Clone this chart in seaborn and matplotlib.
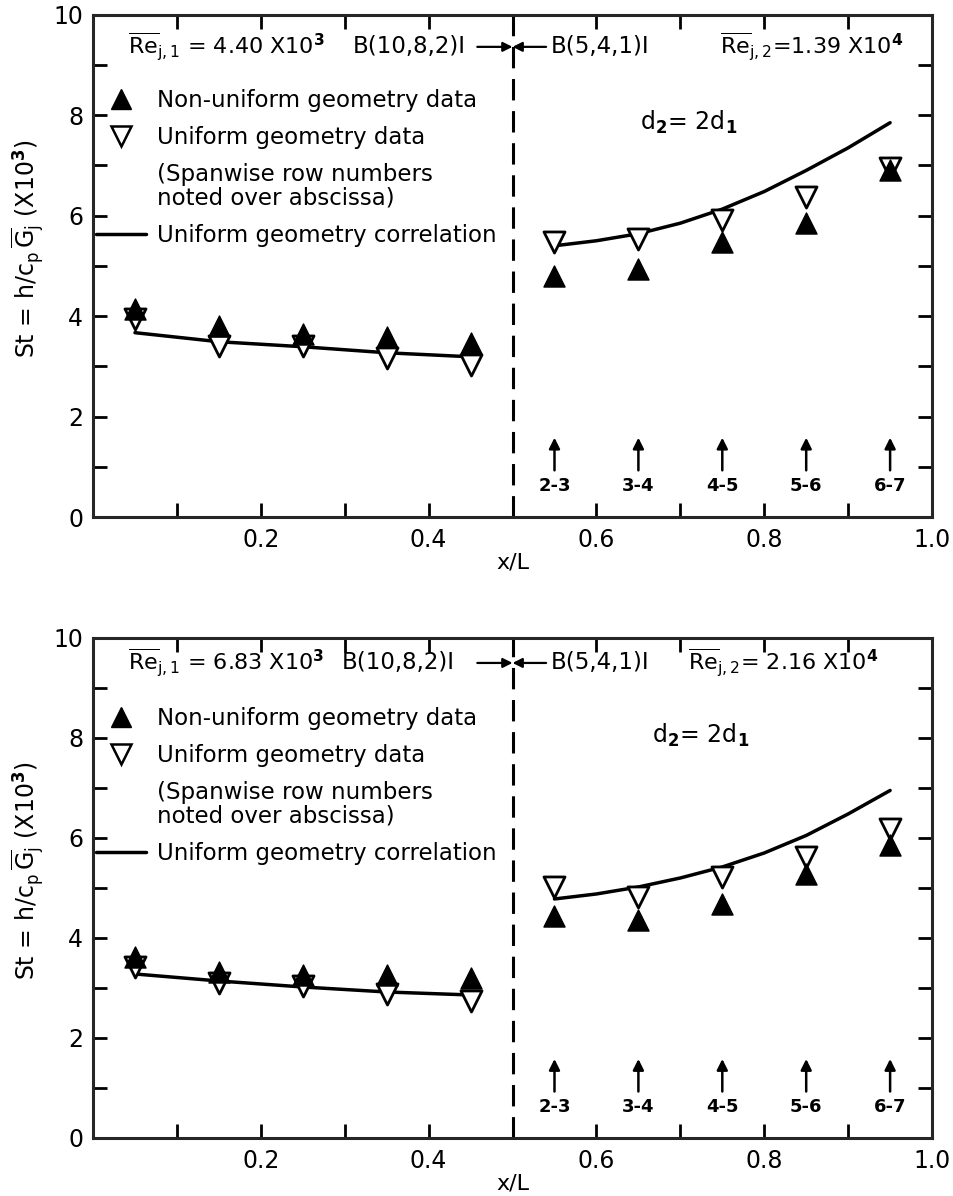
import numpy as np
import pandas as pd
import matplotlib
matplotlib.use("Agg")
import matplotlib.pyplot as plt
import seaborn as sns
from matplotlib.lines import Line2D

# Streamwise positions of the spanwise row pairs
x_pos = [0.05, 0.15, 0.25, 0.35, 0.45, 0.55, 0.65, 0.75, 0.85, 0.95]
row_pairs = ["2-3", "3-4", "4-5", "5-6", "6-7"]

# Correlation curve sample positions (region 1: B(10,8,2)I, region 2: B(5,4,1)I)
corr_x1 = [0.05, 0.15, 0.25, 0.35, 0.45]
corr_x2 = [0.55, 0.60, 0.65, 0.70, 0.75, 0.80, 0.85, 0.90, 0.95]

# Upper panel: Re_j,1 = 4.40e3, Re_j,2 = 1.39e4
nonuni_top = [4.15, 3.80, 3.65, 3.58, 3.47, 4.80, 4.93, 5.48, 5.85, 6.90]
uni_top = [3.95, 3.40, 3.40, 3.17, 3.03, 5.48, 5.53, 5.92, 6.38, 6.95]
corr1_top = [3.67, 3.49, 3.39, 3.27, 3.19]
corr2_top = [5.40, 5.50, 5.64, 5.85, 6.13, 6.48, 6.90, 7.35, 7.85]

# Lower panel: Re_j,1 = 6.83e3, Re_j,2 = 2.16e4
nonuni_bot = [3.62, 3.32, 3.26, 3.25, 3.20, 4.44, 4.36, 4.68, 5.28, 5.85]
uni_bot = [3.42, 3.10, 3.04, 2.88, 2.74, 5.02, 4.82, 5.22, 5.62, 6.18]
corr1_bot = [3.28, 3.14, 3.02, 2.92, 2.86]
corr2_bot = [4.78, 4.88, 5.02, 5.20, 5.42, 5.70, 6.05, 6.48, 6.95]

re1_top = r"$\overline{\mathrm{Re}}_{\mathrm{j,1}}$ = 4.40 X10$^{\mathbf{3}}$"
re2_top = r"$\overline{\mathrm{Re}}_{\mathrm{j,2}}$=1.39 X10$^{\mathbf{4}}$"
re1_bot = r"$\overline{\mathrm{Re}}_{\mathrm{j,1}}$ = 6.83 X10$^{\mathbf{3}}$"
re2_bot = r"$\overline{\mathrm{Re}}_{\mathrm{j,2}}$= 2.16 X10$^{\mathbf{4}}$"

sns.set_theme(style="ticks")
plt.rcParams.update({
    "font.family": ["DejaVu Sans"],
    "mathtext.fontset": "dejavusans",
    "axes.linewidth": 2.2,
    "text.color": "black",
    "axes.labelcolor": "black",
    "xtick.color": "black",
    "ytick.color": "black",
})

fig = plt.figure(figsize=(9.54, 11.96), dpi=100)
ax_top = fig.add_axes([0.0975, 0.5677, 0.8795, 0.4200])
ax_bot = fig.add_axes([0.0975, 0.0485, 0.8795, 0.4181])


def draw_panel(ax, nonuni, uni, corr1, corr2, re1, re2, re_y, head_x, d_xy, leg_y):
    df = pd.DataFrame({"x": x_pos, "nonuni": nonuni, "uni": uni})
    sns.lineplot(x=corr_x1, y=corr1, color="black", lw=2.5, ax=ax)
    sns.lineplot(x=corr_x2, y=corr2, color="black", lw=2.5, ax=ax)
    sns.scatterplot(data=df, x="x", y="uni", marker="v", s=230,
                    facecolor="white", edgecolor="black", linewidth=2, ax=ax, zorder=3)
    sns.scatterplot(data=df, x="x", y="nonuni", marker="^", s=230,
                    color="black", edgecolor="black", linewidth=1, ax=ax, zorder=4)

    ax.axvline(0.5, color="black", lw=2.2, dashes=(7, 3.5))

    ax.set_xlim(0, 1.0)
    ax.set_ylim(0, 10)
    ax.set_xticks([0.2, 0.4, 0.6, 0.8, 1.0])
    ax.set_xticklabels(["0.2", "0.4", "0.6", "0.8", "1.0"])
    ax.set_xticks([0.1, 0.3, 0.5, 0.7, 0.9], minor=True)
    ax.set_yticks([0, 2, 4, 6, 8, 10])
    ax.set_yticks([1, 3, 5, 7, 9], minor=True)
    ax.tick_params(which="both", direction="in", top=True, right=True,
                   length=10, width=2, labelsize=17, pad=7)
    ax.tick_params(axis="x", which="major", pad=8)
    ax.set_xlabel("x/L", fontsize=16, labelpad=0)
    ax.set_ylabel(r"St = h/c$_\mathrm{p}\,\overline{\mathrm{G}}_\mathrm{j}$ (X10$^{\mathbf{3}}$)",
                  fontsize=17)
    ax.yaxis.set_label_coords(-0.056, 0.535)

    # Header annotations and the B(.) configuration arrows
    ax.text(head_x[0], re_y, re1, fontsize=16, va="center", ha="left")
    ax.text(head_x[1], re_y, "B(10,8,2)I", fontsize=16.5, va="center", ha="left")
    ax.text(0.545, re_y, "B(5,4,1)I", fontsize=16.5, va="center", ha="left")
    ax.text(head_x[2], re_y, re2, fontsize=16, va="center", ha="left")
    ax.annotate("", xy=(0.5, re_y), xytext=(0.458, re_y),
                arrowprops=dict(arrowstyle="-|>", color="black", lw=1.6,
                                mutation_scale=14, shrinkA=0, shrinkB=0))
    ax.annotate("", xy=(0.5, re_y), xytext=(0.540, re_y),
                arrowprops=dict(arrowstyle="-|>", color="black", lw=1.6,
                                mutation_scale=14, shrinkA=0, shrinkB=0))
    ax.text(d_xy[0], d_xy[1], r"d$_\mathbf{2}$= 2d$_\mathbf{1}$", fontsize=17,
            va="center", ha="left")

    # Row-pair markers over the abscissa
    for xp, lab in zip(x_pos[5:], row_pairs):
        ax.annotate("", xy=(xp, 1.58), xytext=(xp, 0.93),
                    arrowprops=dict(arrowstyle="-|>", color="black", lw=1.8,
                                    mutation_scale=16, shrinkA=0, shrinkB=0))
        ax.text(xp, 0.62, lab, fontsize=13, fontweight="bold",
                ha="center", va="center")

    handles = [
        Line2D([], [], marker="^", ls="none", color="black", markersize=14),
        Line2D([], [], marker="v", ls="none", markerfacecolor="white",
               markeredgecolor="black", markeredgewidth=1.8, markersize=14),
        Line2D([], [], ls="none"),
        Line2D([], [], color="black", lw=2.5),
    ]
    labels = ["Non-uniform geometry data", "Uniform geometry data",
              "(Spanwise row numbers\nnoted over abscissa)",
              "Uniform geometry correlation"]
    leg = ax.legend(handles, labels, loc="upper left", bbox_to_anchor=(0.003, leg_y),
                    frameon=False, fontsize=16.5, handlelength=2.2, handletextpad=0.5,
                    labelspacing=0.62, borderpad=0, borderaxespad=0)
    leg.get_texts()[2].set_linespacing(1.0)


draw_panel(ax_top, nonuni_top, uni_top, corr1_top, corr2_top,
           re1_top, re2_top, 9.36, (0.042, 0.310, 0.747), (0.652, 7.85), 0.852)
draw_panel(ax_bot, nonuni_bot, uni_bot, corr1_bot, corr2_bot,
           re1_bot, re2_bot, 9.50, (0.042, 0.296, 0.709), (0.666, 8.06), 0.862)

fig.savefig("out.png", dpi=100)
